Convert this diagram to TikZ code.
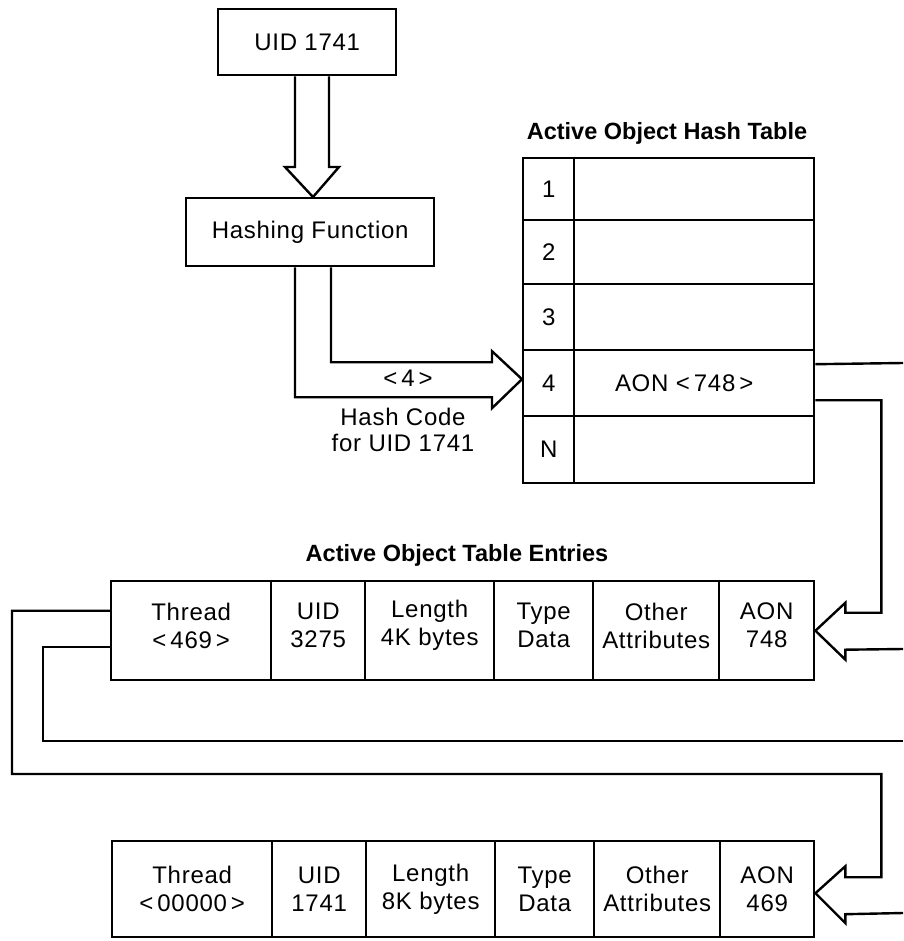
\documentclass[tikz,border=0pt]{standalone}
\usepackage{fontspec}
\setmainfont{Liberation Sans}[LetterSpace=3]
\newfontfamily\headfont{Liberation Sans}
\usetikzlibrary{calc}
\begin{document}
\begin{tikzpicture}[x=1pt,y=-1pt,line width=2.4pt,line join=miter,
  cell/.style={draw,inner sep=0pt,anchor=north west,align=center,
    font=\fontsize{24}{28}\selectfont},
  lbl/.style={inner sep=0pt,align=center,font=\fontsize{24}{28}\selectfont},
  heading/.style={inner sep=0pt,font=\headfont\bfseries\fontsize{23.5}{28}\selectfont}]

% page frame
\path[fill=white] (0,0) rectangle (903,941);
\useasboundingbox (0,0) rectangle (903,941);

% input UID and hashing function
\node[cell,minimum width=178pt,minimum height=66pt] (uid) at (217,8) {UID 1741};
\node[cell,minimum width=248pt,minimum height=68pt] (hf) at (185,197) {Hashing Function};

% active object hash table
\node[heading] (hthead) at (667,133) {Active Object Hash Table};
\node[cell,minimum width=51pt,minimum height=62pt] (k1) at (522,157) {1};
\node[cell,minimum width=240pt,minimum height=62pt] (v1) at (573,157) {};
\node[cell,minimum width=51pt,minimum height=64pt] (k2) at (522,219) {2};
\node[cell,minimum width=240pt,minimum height=64pt] (v2) at (573,219) {};
\node[cell,minimum width=51pt,minimum height=66pt] (k3) at (522,283) {3};
\node[cell,minimum width=240pt,minimum height=66pt] (v3) at (573,283) {};
\node[cell,minimum width=51pt,minimum height=66pt] (k4) at (522,349) {4};
\node[cell,minimum width=240pt,minimum height=66pt,
  label={[lbl,xshift=-10pt]center:AON {<}\,748\,{>}}] (v4) at (573,349) {};
\node[cell,minimum width=51pt,minimum height=67pt] (kn) at (522,415) {N};
\node[cell,minimum width=240pt,minimum height=67pt] (vn) at (573,415) {};

% hash code labels
\node[lbl] (code) at (408,378) {{<}\,4\,{>}};
\node[lbl,font=\fontsize{24}{26}\selectfont] (hc) at (403,430) {Hash Code\\for UID 1741};

% active object table entries
\node[heading] (aothead) at (457,555) {Active Object Table Entries};
\tikzset{upcell/.style={cell,minimum height=99pt,label={[lbl,yshift=5pt]center:#1}}}
\node[upcell={Thread\\{<}\,469\,{>}},minimum width=160pt] (th1) at (110,580) {};
\node[upcell={UID\\3275},minimum width=94pt] (id1) at (270,580) {};
\node[upcell={Length\\4K bytes},minimum width=129pt] (ln1) at (364,580) {};
\node[upcell={Type\\Data},minimum width=99pt] (ty1) at (493,580) {};
\node[upcell={Other\\Attributes},minimum width=126pt] (ot1) at (592,580) {};
\node[upcell={AON\\748},minimum width=95pt] (an1) at (718,580) {};

\node[cell,minimum width=160pt,minimum height=96pt] (th2) at (111,840) {Thread\\{<}\,00000\,{>}};
\node[cell,minimum width=94pt,minimum height=96pt] (id2) at (271,840) {UID\\1741};
\node[cell,minimum width=129pt,minimum height=96pt] (ln2) at (365,840) {Length\\8K bytes};
\node[cell,minimum width=99pt,minimum height=96pt] (ty2) at (494,840) {Type\\Data};
\node[cell,minimum width=126pt,minimum height=96pt] (ot2) at (593,840) {Other\\Attributes};
\node[cell,minimum width=94pt,minimum height=96pt] (an2) at (719,840) {AON\\469};

% free ends and bends of the connectors
\coordinate (endA) at (903,363);
\coordinate (endB) at (903,649);
\coordinate (endC) at (903,741);
\coordinate (endD) at (903,913);
\coordinate (loA) at (12,774);
\coordinate (liA) at (43,741);

% hollow arrow: UID -> hashing function
\coordinate (tipA) at ($(hf.north west)+(128,0)$);
\draw ($(uid.south west)+(78,0)$) -- ($(tipA)+(-18,-30)$) -- ($(tipA)+(-28,-30)$)
  -- (tipA) -- ($(tipA)+(26,-30)$) -- ($(tipA)+(16,-30)$) -- ($(uid.south west)+(112,0)$);

% hollow arrow: hash code -> slot 4
\coordinate (tipB) at ($(k4.west)+(0,-4)$);
\draw ($(hf.south west)+(146,0)$) |- ($(tipB)+(-30,-17)$) -- ($(tipB)+(-30,-28)$)
  -- (tipB) -- ($(tipB)+(-30,29)$) -- ($(tipB)+(-30,18)$) -| ($(hf.south west)+(110,0)$);

% slot 4 -> entry with AON 748
\draw ($(v4.east)+(0,-19)$) -- (endA);
\coordinate (tipC) at (an1.east);
\draw ($(v4.east)+(0,17)$) -| ($(tipC)+(66,-18)$) -- ($(tipC)+(30,-18)$) -- ($(tipC)+(30,-28)$)
  -- (tipC) -- ($(tipC)+(30,29)$) -- ($(tipC)+(30,19)$) -- (endB);

% thread <469> -> entry with AON 469
\coordinate (tipD) at ($(an2.east)+(0,4)$);
\draw ($(th1.west)+(0,-20)$) -| (loA) -| ($(tipD)+(66,-16)$) -- ($(tipD)+(30,-16)$) -- ($(tipD)+(30,-27)$)
  -- (tipD) -- ($(tipD)+(30,30)$) -- ($(tipD)+(30,21)$) -- (endD);

% second thread line leaving the page
\draw ($(th1.west)+(0,16)$) -| (liA) -- (endC);
\end{tikzpicture}
\end{document}
